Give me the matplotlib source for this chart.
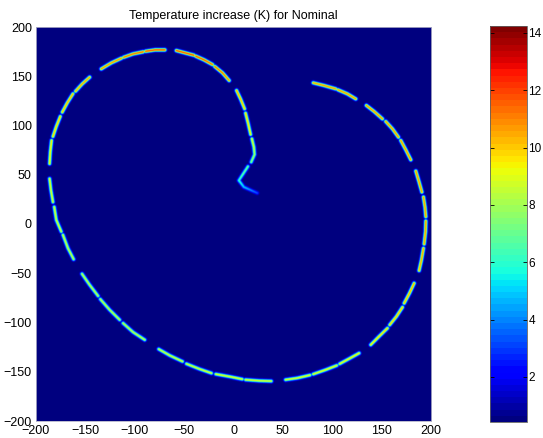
import numpy as np
import matplotlib
matplotlib.use("Agg")
import matplotlib.pyplot as plt

plt.rcParams['font.family'] = ['Liberation Sans', 'DejaVu Sans']

# ---- data: heated track dashes (x, y in data units) and peak temperature rise (K) per vertex
dash_x = [
    [2.6, 6.6, 10.7], [11.7, 14.4, 16.8], [18.1, 20.1, 20.8, 17.4],
    [14.1, 9.3, 4.9, 10.0, 23.5],
    [-4.9, -11.6, -19.4], [-21.8, -30.2, -38.6], [-40.7, -58.2],
    [-70.0, -79.8, -89.3], [-92.0, -102.1, -111.5], [-113.9, -124.0, -134.2],
    [-146.0, -153.4, -160.2], [-162.9, -168.6, -173.7], [-175.7, -179.7, -183.1],
    [-184.5, -185.8, -186.5], [-186.5, -185.1, -183.1], [-181.8, -179.7, -174.7],
    [-173.0, -167.9, -162.2], [-153.7, -146.0, -137.5], [-135.2, -125.7, -115.6],
    [-112.2, -102.1, -90.3], [-76.1, -65.0, -52.1], [-48.1, -34.6, -22.8],
    [-18.4, -3.5, 8.3], [11.7, 25.2, 37.7], [52.2, 64.0, 76.8],
    [80.2, 92.7, 103.9], [106.9, 116.3, 126.5], [138.3, 146.7, 155.2],
    [157.5, 164.3, 170.4], [172.1, 177.5, 182.2], [187.2, 189.6, 191.6],
    [192.3, 193.7, 194.0], [194.0, 193.2, 191.6], [190.0, 186.9, 183.9],
    [178.8, 173.7, 168.7], [166.3, 160.2, 153.5], [150.1, 141.7, 133.9],
    [123.1, 114.7, 105.2], [102.8, 91.0, 80.2],
]
dash_y = [
    [135.7, 127.2, 117.1], [112.7, 101.9, 91.0], [86.6, 78.2, 70.7, 62.9],
    [58.5, 51.1, 44.3, 37.6, 31.5],
    [145.9, 153.6, 160.1], [162.1, 166.8, 170.6], [171.6, 176.3],
    [177.0, 177.0, 175.6], [175.0, 172.9, 169.5], [168.5, 163.8, 157.7],
    [149.2, 142.5, 135.0], [132.3, 123.2, 113.7], [109.3, 99.2, 89.0],
    [84.9, 73.1, 61.3], [46.0, 34.2, 22.3], [17.3, 4.1, -7.7],
    [-11.1, -24.7, -35.8], [-50.7, -61.9, -73.1], [-76.4, -87.3, -97.4],
    [-100.8, -109.9, -117.7], [-127.2, -133.6, -139.7], [-142.1, -147.5, -151.6],
    [-152.6, -155.3, -157.7], [-158.3, -159.3, -159.7], [-158.3, -156.6, -153.6],
    [-152.6, -148.2, -143.8], [-142.1, -137.0, -131.3], [-122.8, -114.3, -105.9],
    [-102.5, -94.0, -84.6], [-80.5, -70.3, -60.2], [-47.3, -36.5, -24.7],
    [-20.3, -7.7, 3.0], [7.5, 17.0, 27.4], [32.5, 43.7, 53.8],
    [65.3, 75.5, 84.9], [88.3, 96.8, 104.2], [106.9, 114.4, 120.5],
    [127.2, 132.3, 136.4], [137.4, 140.8, 143.5],
]
dash_peak = [
    [10.5, 10.5, 10.0], [10.0, 9.8, 9.5], [9.2, 8.8, 8.0, 7.5],
    [7.0, 6.8, 6.2, 5.0, 3.2],
    [11.0, 11.5, 11.5], [11.5, 12.0, 12.0], [12.0, 12.0],
    [12.0, 12.0, 12.0], [11.8, 11.5, 11.5], [11.2, 11.0, 11.0],
    [10.8, 10.8, 10.5], [10.5, 10.5, 10.2], [10.2, 10.0, 10.0],
    [9.8, 9.5, 9.5], [9.2, 9.0, 9.0], [9.0, 8.8, 8.8],
    [8.8, 8.6, 8.6], [8.6, 8.5, 8.5], [8.5, 8.5, 8.5],
    [8.5, 8.5, 8.6], [8.6, 8.8, 8.8], [8.8, 8.8, 9.0],
    [9.0, 9.0, 9.0], [9.0, 9.0, 9.0], [9.0, 9.0, 9.2],
    [9.2, 9.2, 9.3], [9.3, 9.4, 9.5], [9.6, 9.8, 10.0],
    [10.0, 10.2, 10.3], [10.3, 10.5, 10.5], [10.5, 10.8, 10.8],
    [10.8, 11.0, 11.0], [11.0, 11.0, 11.0], [11.0, 11.0, 11.0],
    [11.0, 11.0, 11.0], [11.0, 11.0, 11.0], [11.0, 11.0, 11.0],
    [11.0, 11.0, 11.0], [11.0, 11.0, 10.8],
]
background = 0.43
cmax = 14.24
track_sigma = 1.2
x_ticks = [-200, -150, -100, -50, 0, 50, 100, 150, 200]
y_ticks = [-200, -150, -100, -50, 0, 50, 100, 150, 200]
cbar_ticks = [2, 4, 6, 8, 10, 12, 14]
title = "Temperature increase (K) for Nominal"

# ---- build temperature field from the track
g = np.arange(-200, 200.01, 0.5)
X, Y = np.meshgrid(g, g)
T = np.full(X.shape, background)
for xs, ys, ps in zip(dash_x, dash_y, dash_peak):
    for i in range(len(xs) - 1):
        ax_, ay_, bx_, by_ = xs[i], ys[i], xs[i + 1], ys[i + 1]
        vx, vy = bx_ - ax_, by_ - ay_
        L2 = vx * vx + vy * vy
        t = np.clip(((X - ax_) * vx + (Y - ay_) * vy) / L2, 0, 1)
        dx = X - (ax_ + t * vx)
        dy = Y - (ay_ + t * vy)
        peak = ps[i] + t * (ps[i + 1] - ps[i])
        val = background + (peak - background) * np.exp(-(dx * dx + dy * dy) / (2 * track_sigma ** 2))
        np.maximum(T, val, out=T)

fig = plt.figure(figsize=(5.43, 4.38), dpi=100)
ax = fig.add_axes([36 / 543, 17 / 438, 395 / 543, 394 / 438])
cmap = plt.get_cmap('jet', 64)
im = ax.imshow(T, origin='lower', extent=[-200, 200, -200, 200], cmap=cmap,
               vmin=background, vmax=cmax, interpolation='bilinear', aspect='auto')
ax.set_xlim(-200, 200)
ax.set_ylim(-200, 200)
ax.set_xticks(x_ticks)
ax.set_yticks(y_ticks)
ax.tick_params(direction='in', length=0, labelsize=9, pad=3)
for s in ax.spines.values():
    s.set_color('#b0b0c8')
    s.set_linewidth(0.6)
ax.set_title(title, fontsize=9, pad=6)

cax = fig.add_axes([490 / 543, 16 / 438, 37 / 543, 396 / 438])
cb = fig.colorbar(im, cax=cax, ticks=cbar_ticks)
cb.ax.tick_params(direction='in', length=3, labelsize=8.5, left=True, right=True,
                  width=0.6, pad=1)
cb.outline.set_edgecolor('#606060')
cb.outline.set_linewidth(0.6)

fig.savefig('out.png', dpi=100)
